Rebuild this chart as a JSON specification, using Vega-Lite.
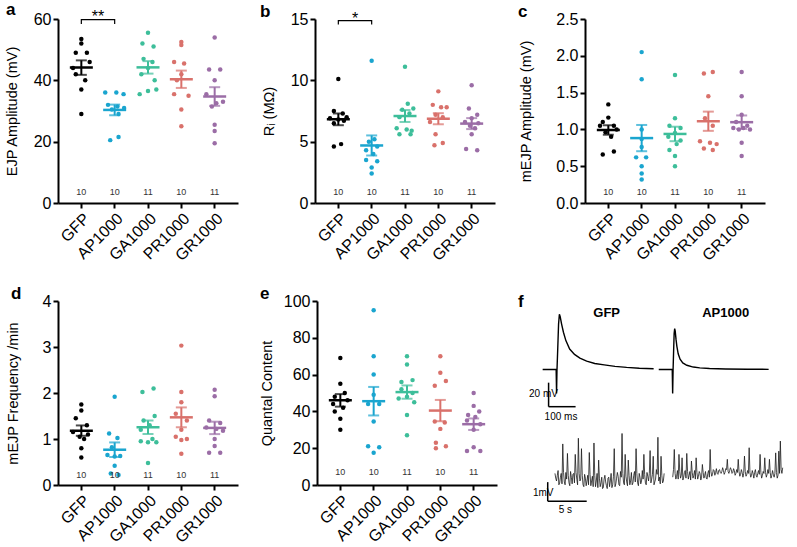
{
"$schema":"https://vega.github.io/schema/vega-lite/v6.json",
"background":"white",
"padding":{"left":4,"top":0,"right":0,"bottom":0},
"spacing":21,
"config":{
 "view":{"stroke":null},
 "font":"Liberation Sans",
 "axis":{"domainColor":"black","domainWidth":2,"tickColor":"black","tickWidth":2,"tickSize":5,"labelColor":"black","labelFontSize":16,"labelPadding":2,"labelOverlap":false,"titleFontSize":14.5,"titleFontWeight":"normal","titleColor":"black","grid":false},
 "title":{"fontSize":17,"fontWeight":"bold","anchor":"start","frame":"group","baseline":"alphabetic","offset":-10,"color":"black"}
},
"datasets":{
 "a":[
  {"g":"GFP","v":53.5,"k":0},{"g":"GFP","v":52,"k":0},{"g":"GFP","v":49,"k":-1},{"g":"GFP","v":49,"k":1},{"g":"GFP","v":46,"k":1.5},{"g":"GFP","v":44,"k":-1.5},{"g":"GFP","v":42,"k":-1},{"g":"GFP","v":40,"k":0.7},{"g":"GFP","v":37,"k":0},{"g":"GFP","v":29,"k":0},
  {"g":"AP1000","v":36,"k":-1.7},{"g":"AP1000","v":36,"k":0.3},{"g":"AP1000","v":35.5,"k":1.6},{"g":"AP1000","v":32,"k":-1.2},{"g":"AP1000","v":31.5,"k":0.5},{"g":"AP1000","v":31,"k":1.7},{"g":"AP1000","v":30.5,"k":-0.5},{"g":"AP1000","v":29,"k":0.7},{"g":"AP1000","v":21.5,"k":0.7},{"g":"AP1000","v":20.5,"k":-0.8},
  {"g":"GA1000","v":55.5,"k":0},{"g":"GA1000","v":52,"k":-1},{"g":"GA1000","v":51,"k":1},{"g":"GA1000","v":47,"k":-0.8},{"g":"GA1000","v":46,"k":0.8},{"g":"GA1000","v":44,"k":0},{"g":"GA1000","v":42,"k":-1.2},{"g":"GA1000","v":40,"k":1.2},{"g":"GA1000","v":37,"k":1.5},{"g":"GA1000","v":36.5,"k":0},{"g":"GA1000","v":35.5,"k":-1.5},
  {"g":"PR1000","v":52.5,"k":0},{"g":"PR1000","v":51.5,"k":0},{"g":"PR1000","v":46,"k":-1.3},{"g":"PR1000","v":45.5,"k":0.5},{"g":"PR1000","v":42,"k":0},{"g":"PR1000","v":40,"k":-0.8},{"g":"PR1000","v":35.5,"k":-1.3},{"g":"PR1000","v":35,"k":1.3},{"g":"PR1000","v":30.5,"k":0},{"g":"PR1000","v":25,"k":0},
  {"g":"GR1000","v":54,"k":0},{"g":"GR1000","v":43.5,"k":-1},{"g":"GR1000","v":43.5,"k":1},{"g":"GR1000","v":40,"k":0},{"g":"GR1000","v":35.5,"k":-1.5},{"g":"GR1000","v":33,"k":1.5},{"g":"GR1000","v":32.5,"k":0.3},{"g":"GR1000","v":31.5,"k":-0.5},{"g":"GR1000","v":25.5,"k":0},{"g":"GR1000","v":23.5,"k":0},{"g":"GR1000","v":19.5,"k":0}
 ],
 "b":[
  {"g":"GFP","v":10.1,"k":0},{"g":"GFP","v":7.5,"k":-0.8},{"g":"GFP","v":7.3,"k":0.8},{"g":"GFP","v":7.0,"k":1.5},{"g":"GFP","v":6.9,"k":-1.5},{"g":"GFP","v":6.8,"k":0},{"g":"GFP","v":6.7,"k":1},{"g":"GFP","v":6.5,"k":-0.8},{"g":"GFP","v":4.8,"k":0.5},{"g":"GFP","v":4.6,"k":-0.8},
  {"g":"AP1000","v":11.6,"k":0},{"g":"AP1000","v":5.2,"k":0.5},{"g":"AP1000","v":5.0,"k":-0.5},{"g":"AP1000","v":4.6,"k":1},{"g":"AP1000","v":4.3,"k":-1},{"g":"AP1000","v":4.0,"k":0.3},{"g":"AP1000","v":3.5,"k":-1},{"g":"AP1000","v":3.4,"k":1},{"g":"AP1000","v":2.9,"k":0},{"g":"AP1000","v":2.4,"k":0},
  {"g":"GA1000","v":11.1,"k":0},{"g":"GA1000","v":8.1,"k":0.5},{"g":"GA1000","v":7.7,"k":1.5},{"g":"GA1000","v":7.6,"k":-0.5},{"g":"GA1000","v":7.3,"k":0.8},{"g":"GA1000","v":7.0,"k":-1},{"g":"GA1000","v":6.1,"k":-1.5},{"g":"GA1000","v":6.0,"k":0.3},{"g":"GA1000","v":5.9,"k":1.2},{"g":"GA1000","v":5.6,"k":-1},{"g":"GA1000","v":5.6,"k":1},
  {"g":"PR1000","v":9.1,"k":0},{"g":"PR1000","v":8.0,"k":-1},{"g":"PR1000","v":7.8,"k":0.5},{"g":"PR1000","v":7.8,"k":1.5},{"g":"PR1000","v":7.2,"k":-0.5},{"g":"PR1000","v":7.0,"k":0.8},{"g":"PR1000","v":6.6,"k":-1.5},{"g":"PR1000","v":5.6,"k":-0.5},{"g":"PR1000","v":4.9,"k":0.8},{"g":"PR1000","v":4.7,"k":-0.7},
  {"g":"GR1000","v":9.6,"k":0},{"g":"GR1000","v":7.7,"k":-0.5},{"g":"GR1000","v":7.2,"k":1},{"g":"GR1000","v":6.9,"k":0},{"g":"GR1000","v":6.6,"k":-1.2},{"g":"GR1000","v":6.5,"k":1.2},{"g":"GR1000","v":6.3,"k":-0.3},{"g":"GR1000","v":6.1,"k":0.6},{"g":"GR1000","v":5.6,"k":0},{"g":"GR1000","v":4.4,"k":-1},{"g":"GR1000","v":4.3,"k":1}
 ],
 "c":[
  {"g":"GFP","v":1.34,"k":0},{"g":"GFP","v":1.16,"k":0},{"g":"GFP","v":1.10,"k":-1},{"g":"GFP","v":1.05,"k":-1.5},{"g":"GFP","v":1.05,"k":1},{"g":"GFP","v":1.00,"k":1.5},{"g":"GFP","v":0.96,"k":-0.5},{"g":"GFP","v":0.90,"k":0.5},{"g":"GFP","v":0.70,"k":1},{"g":"GFP","v":0.66,"k":-1},
  {"g":"AP1000","v":2.05,"k":0},{"g":"AP1000","v":1.68,"k":0},{"g":"AP1000","v":1.0,"k":0},{"g":"AP1000","v":0.87,"k":0},{"g":"AP1000","v":0.76,"k":0},{"g":"AP1000","v":0.62,"k":-1},{"g":"AP1000","v":0.62,"k":0.8},{"g":"AP1000","v":0.5,"k":0},{"g":"AP1000","v":0.4,"k":0},{"g":"AP1000","v":0.32,"k":0},
  {"g":"GA1000","v":1.74,"k":0},{"g":"GA1000","v":1.15,"k":0},{"g":"GA1000","v":1.05,"k":-1},{"g":"GA1000","v":1.02,"k":1},{"g":"GA1000","v":0.95,"k":0},{"g":"GA1000","v":0.90,"k":-1.2},{"g":"GA1000","v":0.85,"k":1},{"g":"GA1000","v":0.80,"k":0.3},{"g":"GA1000","v":0.72,"k":-1},{"g":"GA1000","v":0.64,"k":0},{"g":"GA1000","v":0.50,"k":0},
  {"g":"PR1000","v":1.78,"k":0.8},{"g":"PR1000","v":1.76,"k":-0.8},{"g":"PR1000","v":1.45,"k":0},{"g":"PR1000","v":1.15,"k":-0.6},{"g":"PR1000","v":1.05,"k":0.8},{"g":"PR1000","v":0.84,"k":-1.5},{"g":"PR1000","v":0.82,"k":0.3},{"g":"PR1000","v":0.80,"k":1.5},{"g":"PR1000","v":0.74,"k":-0.8},{"g":"PR1000","v":0.72,"k":0.8},
  {"g":"GR1000","v":1.78,"k":0},{"g":"GR1000","v":1.45,"k":0},{"g":"GR1000","v":1.20,"k":0},{"g":"GR1000","v":1.10,"k":-1},{"g":"GR1000","v":1.05,"k":1},{"g":"GR1000","v":1.02,"k":-1.5},{"g":"GR1000","v":1.02,"k":0.3},{"g":"GR1000","v":1.00,"k":1.5},{"g":"GR1000","v":1.00,"k":-0.5},{"g":"GR1000","v":0.82,"k":0},{"g":"GR1000","v":0.64,"k":0}
 ],
 "d":[
  {"g":"GFP","v":1.75,"k":0},{"g":"GFP","v":1.62,"k":0},{"g":"GFP","v":1.45,"k":-1},{"g":"GFP","v":1.30,"k":1},{"g":"GFP","v":1.15,"k":-1.5},{"g":"GFP","v":1.10,"k":1.2},{"g":"GFP","v":1.05,"k":-0.3},{"g":"GFP","v":1.00,"k":0.5},{"g":"GFP","v":0.80,"k":0},{"g":"GFP","v":0.60,"k":0},
  {"g":"AP1000","v":1.92,"k":0},{"g":"AP1000","v":1.12,"k":-1},{"g":"AP1000","v":1.02,"k":0.5},{"g":"AP1000","v":0.82,"k":-0.5},{"g":"AP1000","v":0.65,"k":-1.3},{"g":"AP1000","v":0.63,"k":1},{"g":"AP1000","v":0.62,"k":0},{"g":"AP1000","v":0.42,"k":0},{"g":"AP1000","v":0.25,"k":-0.7},{"g":"AP1000","v":0.22,"k":0.7},
  {"g":"GA1000","v":2.10,"k":1},{"g":"GA1000","v":2.02,"k":-1},{"g":"GA1000","v":1.50,"k":1.2},{"g":"GA1000","v":1.40,"k":-0.8},{"g":"GA1000","v":1.30,"k":0.3},{"g":"GA1000","v":1.20,"k":-1.3},{"g":"GA1000","v":1.00,"k":0.8},{"g":"GA1000","v":0.95,"k":-1.3},{"g":"GA1000","v":0.93,"k":0},{"g":"GA1000","v":0.93,"k":1.5},{"g":"GA1000","v":0.48,"k":0},
  {"g":"PR1000","v":3.03,"k":0},{"g":"PR1000","v":2.02,"k":0},{"g":"PR1000","v":1.80,"k":0},{"g":"PR1000","v":1.55,"k":-1},{"g":"PR1000","v":1.40,"k":1},{"g":"PR1000","v":1.20,"k":0},{"g":"PR1000","v":1.05,"k":-1},{"g":"PR1000","v":1.00,"k":1},{"g":"PR1000","v":0.98,"k":0},{"g":"PR1000","v":0.68,"k":0},
  {"g":"GR1000","v":2.07,"k":0},{"g":"GR1000","v":1.93,"k":0},{"g":"GR1000","v":1.40,"k":-1},{"g":"GR1000","v":1.35,"k":1},{"g":"GR1000","v":1.25,"k":-1.5},{"g":"GR1000","v":1.22,"k":0.3},{"g":"GR1000","v":1.18,"k":1.5},{"g":"GR1000","v":1.00,"k":0},{"g":"GR1000","v":0.85,"k":0},{"g":"GR1000","v":0.70,"k":-1},{"g":"GR1000","v":0.70,"k":1}
 ],
 "e":[
  {"g":"GFP","v":69,"k":0},{"g":"GFP","v":55,"k":0},{"g":"GFP","v":50,"k":0.8},{"g":"GFP","v":48,"k":-1},{"g":"GFP","v":46,"k":1.3},{"g":"GFP","v":44,"k":-1.3},{"g":"GFP","v":42,"k":0.5},{"g":"GFP","v":40,"k":-1},{"g":"GFP","v":36,"k":0},{"g":"GFP","v":30,"k":0},
  {"g":"AP1000","v":95,"k":0},{"g":"AP1000","v":70,"k":0},{"g":"AP1000","v":60,"k":0},{"g":"AP1000","v":49,"k":0},{"g":"AP1000","v":44,"k":-1},{"g":"AP1000","v":44,"k":1},{"g":"AP1000","v":34.5,"k":0},{"g":"AP1000","v":21,"k":-1},{"g":"AP1000","v":20.5,"k":1},{"g":"AP1000","v":17.5,"k":0},
  {"g":"GA1000","v":70,"k":0},{"g":"GA1000","v":65.5,"k":0},{"g":"GA1000","v":57,"k":1},{"g":"GA1000","v":56,"k":-1},{"g":"GA1000","v":52,"k":-1},{"g":"GA1000","v":50,"k":1},{"g":"GA1000","v":48,"k":0},{"g":"GA1000","v":47,"k":-1.5},{"g":"GA1000","v":45,"k":1.3},{"g":"GA1000","v":38,"k":0},{"g":"GA1000","v":27,"k":0},
  {"g":"PR1000","v":70,"k":0},{"g":"PR1000","v":61,"k":0},{"g":"PR1000","v":56.5,"k":1},{"g":"PR1000","v":54,"k":-1},{"g":"PR1000","v":34.5,"k":-1},{"g":"PR1000","v":34,"k":0.8},{"g":"PR1000","v":30.5,"k":0},{"g":"PR1000","v":23,"k":-0.8},{"g":"PR1000","v":21,"k":1},{"g":"PR1000","v":20,"k":-0.8},
  {"g":"GR1000","v":50,"k":0},{"g":"GR1000","v":43,"k":0},{"g":"GR1000","v":40,"k":1},{"g":"GR1000","v":38,"k":-1},{"g":"GR1000","v":37,"k":0.3},{"g":"GR1000","v":35,"k":-1.2},{"g":"GR1000","v":33,"k":1.2},{"g":"GR1000","v":30,"k":0},{"g":"GR1000","v":20.5,"k":0},{"g":"GR1000","v":18.5,"k":-1.2},{"g":"GR1000","v":18.5,"k":1.2}
 ],
 "ejp":[
  {"s":"g","t":122,"v":0},{"s":"g","t":172,"v":0},{"s":"g","t":173.5,"v":-20},{"s":"g","t":175,"v":-1},{"s":"g","t":178,"v":18},{"s":"g","t":181,"v":38},{"s":"g","t":184,"v":46},{"s":"g","t":187,"v":44},{"s":"g","t":192,"v":38},{"s":"g","t":199,"v":31},{"s":"g","t":208,"v":24},{"s":"g","t":222,"v":17},{"s":"g","t":240,"v":12.5},{"s":"g","t":260,"v":9.5},{"s":"g","t":285,"v":7},{"s":"g","t":315,"v":5},{"s":"g","t":350,"v":3.8},{"s":"g","t":390,"v":2.6},{"s":"g","t":433,"v":1.7},{"s":"g","t":480,"v":1},{"s":"g","t":533,"v":0.6},
  {"s":"a","t":552,"v":0},{"s":"a","t":602,"v":0},{"s":"a","t":603.5,"v":-20},{"s":"a","t":605,"v":-1},{"s":"a","t":607,"v":15},{"s":"a","t":609,"v":30},{"s":"a","t":611,"v":34},{"s":"a","t":613,"v":32},{"s":"a","t":616,"v":25},{"s":"a","t":619,"v":19.5},{"s":"a","t":624,"v":13},{"s":"a","t":631,"v":8.5},{"s":"a","t":641,"v":5.5},{"s":"a","t":656,"v":3.5},{"s":"a","t":680,"v":2},{"s":"a","t":704,"v":1.3},{"s":"a","t":740,"v":0.8},{"s":"a","t":800,"v":0.4},{"s":"a","t":880,"v":0.2},{"s":"a","t":959,"v":0.1}
 ],
 "mini":[
  {"s":"g","t":5.8,"v":0.3},{"s":"g","t":6.0,"v":-0.1},{"s":"g","t":6.2,"v":0.45},{"s":"g","t":6.4,"v":-0.2},{"s":"g","t":6.6,"v":0.3},{"s":"g","t":6.8,"v":1.85},{"s":"g","t":7.0,"v":-0.15},{"s":"g","t":7.2,"v":0.35},{"s":"g","t":7.4,"v":1.35},{"s":"g","t":7.6,"v":-0.2},{"s":"g","t":7.8,"v":0.4},{"s":"g","t":8.0,"v":-0.25},{"s":"g","t":8.2,"v":0.3},{"s":"g","t":8.4,"v":1.3},{"s":"g","t":8.6,"v":0.0},{"s":"g","t":8.8,"v":2.15},{"s":"g","t":9.0,"v":-0.1},{"s":"g","t":9.2,"v":1.6},{"s":"g","t":9.4,"v":-0.3},{"s":"g","t":9.6,"v":0.25},{"s":"g","t":9.8,"v":-0.35},{"s":"g","t":10.0,"v":0.2},{"s":"g","t":10.2,"v":1.4},{"s":"g","t":10.4,"v":-0.35},{"s":"g","t":10.6,"v":0.15},{"s":"g","t":10.8,"v":1.9},{"s":"g","t":11.0,"v":-0.4},{"s":"g","t":11.2,"v":0.3},{"s":"g","t":11.4,"v":1.0},{"s":"g","t":11.6,"v":-0.4},{"s":"g","t":11.8,"v":0.1},{"s":"g","t":12.0,"v":-0.45},{"s":"g","t":12.2,"v":0.2},{"s":"g","t":12.4,"v":-0.35},{"s":"g","t":12.6,"v":0.05},{"s":"g","t":12.8,"v":-0.4},{"s":"g","t":13.0,"v":0.3},{"s":"g","t":13.2,"v":-0.3},{"s":"g","t":13.4,"v":1.6},{"s":"g","t":13.6,"v":-0.25},{"s":"g","t":13.8,"v":0.35},{"s":"g","t":14.0,"v":-0.3},{"s":"g","t":14.2,"v":0.4},{"s":"g","t":14.4,"v":2.4},{"s":"g","t":14.6,"v":-0.2},{"s":"g","t":14.8,"v":1.3},{"s":"g","t":15.0,"v":-0.15},{"s":"g","t":15.2,"v":1.0},{"s":"g","t":15.4,"v":-0.3},{"s":"g","t":15.6,"v":0.35},{"s":"g","t":15.8,"v":-0.2},{"s":"g","t":16.0,"v":0.4},{"s":"g","t":16.2,"v":1.6},{"s":"g","t":16.4,"v":-0.2},{"s":"g","t":16.6,"v":0.3},{"s":"g","t":16.8,"v":-0.25},{"s":"g","t":17.0,"v":0.45},{"s":"g","t":17.2,"v":1.3},{"s":"g","t":17.4,"v":-0.2},{"s":"g","t":17.6,"v":0.35},{"s":"g","t":17.8,"v":-0.1},{"s":"g","t":18.0,"v":1.5},{"s":"g","t":18.2,"v":0.0},{"s":"g","t":18.4,"v":1.2},{"s":"g","t":18.6,"v":-0.15},{"s":"g","t":18.8,"v":0.5},{"s":"g","t":19.0,"v":2.2},{"s":"g","t":19.2,"v":0.1},{"s":"g","t":19.4,"v":1.2},{"s":"g","t":19.6,"v":-0.2},{"s":"g","t":19.8,"v":0.3},
  {"s":"g","t":5.9,"v":0.05},{"s":"g","t":6.1,"v":0.2},{"s":"g","t":6.3,"v":-0.3},{"s":"g","t":6.5,"v":0.1},{"s":"g","t":6.7,"v":-0.25},{"s":"g","t":6.9,"v":0.35},{"s":"g","t":7.1,"v":-0.3},{"s":"g","t":7.3,"v":0.0},{"s":"g","t":7.5,"v":0.2},{"s":"g","t":7.7,"v":-0.35},{"s":"g","t":7.9,"v":0.1},{"s":"g","t":8.1,"v":0.25},{"s":"g","t":8.3,"v":-0.2},{"s":"g","t":8.5,"v":0.35},{"s":"g","t":8.7,"v":-0.3},{"s":"g","t":8.9,"v":0.3},{"s":"g","t":9.1,"v":0.0},{"s":"g","t":9.3,"v":0.2},{"s":"g","t":9.5,"v":-0.4},{"s":"g","t":9.7,"v":0.05},{"s":"g","t":9.9,"v":-0.1},{"s":"g","t":10.1,"v":-0.3},{"s":"g","t":10.3,"v":0.25},{"s":"g","t":10.5,"v":-0.1},{"s":"g","t":10.7,"v":-0.4},{"s":"g","t":10.9,"v":0.2},{"s":"g","t":11.1,"v":-0.1},{"s":"g","t":11.3,"v":-0.45},{"s":"g","t":11.5,"v":0.05},{"s":"g","t":11.7,"v":-0.2},{"s":"g","t":11.9,"v":-0.5},{"s":"g","t":12.1,"v":0.0},{"s":"g","t":12.3,"v":-0.15},{"s":"g","t":12.5,"v":-0.5},{"s":"g","t":12.7,"v":0.1},{"s":"g","t":12.9,"v":-0.1},{"s":"g","t":13.1,"v":-0.45},{"s":"g","t":13.3,"v":0.15},{"s":"g","t":13.5,"v":-0.4},{"s":"g","t":13.7,"v":0.05},{"s":"g","t":13.9,"v":0.15},{"s":"g","t":14.1,"v":-0.35},{"s":"g","t":14.3,"v":0.1},{"s":"g","t":14.5,"v":0.3},{"s":"g","t":14.7,"v":-0.3},{"s":"g","t":14.9,"v":0.15},{"s":"g","t":15.1,"v":-0.35},{"s":"g","t":15.3,"v":0.2},{"s":"g","t":15.5,"v":-0.1},{"s":"g","t":15.7,"v":-0.3},{"s":"g","t":15.9,"v":0.2},{"s":"g","t":16.1,"v":-0.15},{"s":"g","t":16.3,"v":0.3},{"s":"g","t":16.5,"v":-0.35},{"s":"g","t":16.7,"v":0.1},{"s":"g","t":16.9,"v":-0.1},{"s":"g","t":17.1,"v":0.0},{"s":"g","t":17.3,"v":0.25},{"s":"g","t":17.5,"v":-0.3},{"s":"g","t":17.7,"v":0.15},{"s":"g","t":17.9,"v":0.3},{"s":"g","t":18.1,"v":-0.2},{"s":"g","t":18.3,"v":0.25},{"s":"g","t":18.5,"v":-0.3},{"s":"g","t":18.7,"v":0.0},{"s":"g","t":18.9,"v":0.25},{"s":"g","t":19.1,"v":-0.1},{"s":"g","t":19.3,"v":-0.25},{"s":"g","t":19.5,"v":0.2},{"s":"g","t":19.7,"v":-0.1},
  {"s":"a","t":20.9,"v":0.1},{"s":"a","t":21.1,"v":1.56},{"s":"a","t":21.3,"v":0.0},{"s":"a","t":21.5,"v":0.45},{"s":"a","t":21.7,"v":1.3},{"s":"a","t":21.9,"v":0.05},{"s":"a","t":22.1,"v":1.12},{"s":"a","t":22.3,"v":0.1},{"s":"a","t":22.5,"v":0.45},{"s":"a","t":22.7,"v":1.35},{"s":"a","t":22.9,"v":0.0},{"s":"a","t":23.1,"v":0.4},{"s":"a","t":23.3,"v":0.95},{"s":"a","t":23.5,"v":0.05},{"s":"a","t":23.7,"v":0.45},{"s":"a","t":23.9,"v":1.12},{"s":"a","t":24.1,"v":0.0},{"s":"a","t":24.3,"v":0.4},{"s":"a","t":24.5,"v":-0.05},{"s":"a","t":24.7,"v":0.77},{"s":"a","t":24.9,"v":0.05},{"s":"a","t":25.1,"v":0.4},{"s":"a","t":25.3,"v":0.0},{"s":"a","t":25.5,"v":0.45},{"s":"a","t":25.7,"v":1.56},{"s":"a","t":25.9,"v":0.15},{"s":"a","t":26.1,"v":0.5},{"s":"a","t":26.3,"v":0.2},{"s":"a","t":26.5,"v":0.55},{"s":"a","t":26.7,"v":0.25},{"s":"a","t":26.9,"v":0.5},{"s":"a","t":27.1,"v":0.3},{"s":"a","t":27.3,"v":0.6},{"s":"a","t":27.5,"v":0.25},{"s":"a","t":27.7,"v":0.55},{"s":"a","t":27.9,"v":1.04},{"s":"a","t":28.1,"v":0.3},{"s":"a","t":28.3,"v":0.6},{"s":"a","t":28.5,"v":0.3},{"s":"a","t":28.7,"v":0.55},{"s":"a","t":28.9,"v":0.2},{"s":"a","t":29.1,"v":0.5},{"s":"a","t":29.3,"v":1.04},{"s":"a","t":29.5,"v":0.15},{"s":"a","t":29.7,"v":0.5},{"s":"a","t":29.9,"v":0.1},{"s":"a","t":30.1,"v":1.21},{"s":"a","t":30.3,"v":0.15},{"s":"a","t":30.5,"v":0.45},{"s":"a","t":30.7,"v":1.65},{"s":"a","t":30.9,"v":0.1},{"s":"a","t":31.1,"v":0.45},{"s":"a","t":31.3,"v":0.05},{"s":"a","t":31.5,"v":0.5},{"s":"a","t":31.7,"v":0.1},{"s":"a","t":31.9,"v":0.45},{"s":"a","t":32.1,"v":1.3},{"s":"a","t":32.3,"v":0.05},{"s":"a","t":32.5,"v":0.4},{"s":"a","t":32.7,"v":1.12},{"s":"a","t":32.9,"v":0.1},{"s":"a","t":33.1,"v":0.5},{"s":"a","t":33.3,"v":1.04},{"s":"a","t":33.5,"v":0.05},{"s":"a","t":33.7,"v":0.45},{"s":"a","t":33.9,"v":0.1},{"s":"a","t":34.1,"v":1.38},{"s":"a","t":34.3,"v":0.05},{"s":"a","t":34.5,"v":1.47},{"s":"a","t":34.7,"v":2.0},{"s":"a","t":34.9,"v":0.3},{"s":"a","t":35.0,"v":0.6},
  {"s":"a","t":21.0,"v":0.5},{"s":"a","t":21.2,"v":0.3},{"s":"a","t":21.4,"v":0.15},{"s":"a","t":21.6,"v":0.0},{"s":"a","t":21.8,"v":0.4},{"s":"a","t":22.0,"v":0.2},{"s":"a","t":22.2,"v":-0.05},{"s":"a","t":22.4,"v":0.35},{"s":"a","t":22.6,"v":0.05},{"s":"a","t":22.8,"v":0.4},{"s":"a","t":23.0,"v":0.2},{"s":"a","t":23.2,"v":-0.05},{"s":"a","t":23.4,"v":0.35},{"s":"a","t":23.6,"v":0.2},{"s":"a","t":23.8,"v":0.0},{"s":"a","t":24.0,"v":0.35},{"s":"a","t":24.2,"v":0.15},{"s":"a","t":24.4,"v":0.3},{"s":"a","t":24.6,"v":0.1},{"s":"a","t":24.8,"v":0.35},{"s":"a","t":25.0,"v":0.2},{"s":"a","t":25.2,"v":0.05},{"s":"a","t":25.4,"v":0.3},{"s":"a","t":25.6,"v":0.1},{"s":"a","t":25.8,"v":0.4},{"s":"a","t":26.0,"v":0.25},{"s":"a","t":26.2,"v":0.45},{"s":"a","t":26.4,"v":0.35},{"s":"a","t":26.6,"v":0.3},{"s":"a","t":26.8,"v":0.45},{"s":"a","t":27.0,"v":0.35},{"s":"a","t":27.2,"v":0.4},{"s":"a","t":27.4,"v":0.45},{"s":"a","t":27.6,"v":0.35},{"s":"a","t":27.8,"v":0.5},{"s":"a","t":28.0,"v":0.4},{"s":"a","t":28.2,"v":0.45},{"s":"a","t":28.4,"v":0.5},{"s":"a","t":28.6,"v":0.35},{"s":"a","t":28.8,"v":0.45},{"s":"a","t":29.0,"v":0.3},{"s":"a","t":29.2,"v":0.35},{"s":"a","t":29.4,"v":0.4},{"s":"a","t":29.6,"v":0.25},{"s":"a","t":29.8,"v":0.35},{"s":"a","t":30.0,"v":0.3},{"s":"a","t":30.2,"v":0.4},{"s":"a","t":30.4,"v":0.25},{"s":"a","t":30.6,"v":0.3},{"s":"a","t":30.8,"v":0.35},{"s":"a","t":31.0,"v":0.2},{"s":"a","t":31.2,"v":0.3},{"s":"a","t":31.4,"v":0.35},{"s":"a","t":31.6,"v":0.2},{"s":"a","t":31.8,"v":0.3},{"s":"a","t":32.0,"v":0.25},{"s":"a","t":32.2,"v":0.35},{"s":"a","t":32.4,"v":0.2},{"s":"a","t":32.6,"v":0.3},{"s":"a","t":32.8,"v":0.35},{"s":"a","t":33.0,"v":0.25},{"s":"a","t":33.2,"v":0.3},{"s":"a","t":33.4,"v":0.35},{"s":"a","t":33.6,"v":0.2},{"s":"a","t":33.8,"v":0.25},{"s":"a","t":34.0,"v":0.3},{"s":"a","t":34.2,"v":0.35},{"s":"a","t":34.4,"v":0.2},{"s":"a","t":34.6,"v":0.3},{"s":"a","t":34.8,"v":0.5}
 ]
},
"vconcat":[
 {"spacing":22,"hconcat":[
  {"width":180,"height":184,"title":{"text":"a","dx":-52},"data":{"name":"a"},
   "encoding":{
    "x":{"field":"g","type":"nominal","scale":{"domain":["GFP","AP1000","GA1000","PR1000","GR1000"],"paddingInner":0,"paddingOuter":0.2},"axis":{"title":null,"labelAngle":-45}},
    "color":{"field":"g","type":"nominal","scale":{"domain":["GFP","AP1000","GA1000","PR1000","GR1000"],"range":["#000000","#1aa5cf","#3dbe9a","#d9716b","#9b6da6"]},"legend":null}},
   "layer":[
    {"mark":{"type":"circle","size":20,"opacity":1},"encoding":{"y":{"field":"v","type":"quantitative","title":"EJP Amplitude (mV)","scale":{"domain":[0,60],"nice":false},"axis":{"values":[0,20,40,60],"tickCount":20,"format":"d","titleX":-46,"titleBaseline":"middle"}},"xOffset":{"field":"k","type":"quantitative","scale":{"domain":[-3,3]}}}},
    {"mark":{"type":"errorbar","extent":"stderr","ticks":true,"size":11,"thickness":2},"encoding":{"y":{"field":"v","type":"quantitative","title":"EJP Amplitude (mV)"}}},
    {"mark":{"type":"tick","size":23,"thickness":2.5},"encoding":{"y":{"aggregate":"mean","field":"v","type":"quantitative","title":"EJP Amplitude (mV)"}}},
    {"mark":{"type":"text","fontSize":9,"baseline":"middle"},"encoding":{"y":{"datum":3.6},"text":{"aggregate":"count","type":"quantitative"},"color":{"value":"#333333"}}},
    {"data":{"values":[{"g":"GFP","v":58.4,"o":1},{"g":"GFP","v":59.8,"o":2},{"g":"AP1000","v":59.8,"o":3},{"g":"AP1000","v":58.4,"o":4}]},"mark":{"type":"line","strokeWidth":1.2},"encoding":{"y":{"field":"v","type":"quantitative","title":"EJP Amplitude (mV)"},"order":{"field":"o","type":"quantitative"},"color":{"value":"black"}}},
    {"data":{"values":[{"g":"AP1000","v":59.05,"s":"**"}]},"mark":{"type":"text","fontSize":16,"baseline":"alphabetic","align":"center"},"encoding":{"x":{"field":"g","type":"nominal","bandPosition":0},"y":{"field":"v","type":"quantitative","title":"EJP Amplitude (mV)"},"text":{"field":"s"},"color":{"value":"black"}}}
   ]},
  {"width":180,"height":184,"title":{"text":"b","dx":-55},"data":{"name":"b"},
   "encoding":{
    "x":{"field":"g","type":"nominal","scale":{"domain":["GFP","AP1000","GA1000","PR1000","GR1000"],"paddingInner":0,"paddingOuter":0.2},"axis":{"title":null,"labelAngle":-45}},
    "color":{"field":"g","type":"nominal","scale":{"domain":["GFP","AP1000","GA1000","PR1000","GR1000"],"range":["#000000","#1aa5cf","#3dbe9a","#d9716b","#9b6da6"]},"legend":null}},
   "layer":[
    {"mark":{"type":"circle","size":20,"opacity":1},"encoding":{"y":{"field":"v","type":"quantitative","title":"Rᵢ (MΩ)","scale":{"domain":[0,15],"nice":false},"axis":{"values":[0,5,10,15],"tickCount":20,"format":"d","titleX":-46,"titleBaseline":"middle"}},"xOffset":{"field":"k","type":"quantitative","scale":{"domain":[-3,3]}}}},
    {"mark":{"type":"errorbar","extent":"stderr","ticks":true,"size":11,"thickness":2},"encoding":{"y":{"field":"v","type":"quantitative","title":"Rᵢ (MΩ)"}}},
    {"mark":{"type":"tick","size":23,"thickness":2.5},"encoding":{"y":{"aggregate":"mean","field":"v","type":"quantitative","title":"Rᵢ (MΩ)"}}},
    {"mark":{"type":"text","fontSize":9,"baseline":"middle"},"encoding":{"y":{"datum":0.9},"text":{"aggregate":"count","type":"quantitative"},"color":{"value":"#333333"}}},
    {"data":{"values":[{"g":"GFP","v":14.56,"o":1},{"g":"GFP","v":14.86,"o":2},{"g":"AP1000","v":14.86,"o":3},{"g":"AP1000","v":14.56,"o":4}]},"mark":{"type":"line","strokeWidth":1.2},"encoding":{"y":{"field":"v","type":"quantitative","title":"Rᵢ (MΩ)"},"order":{"field":"o","type":"quantitative"},"color":{"value":"black"}}},
    {"data":{"values":[{"g":"AP1000","v":14.6,"s":"*"}]},"mark":{"type":"text","fontSize":16,"baseline":"alphabetic","align":"center"},"encoding":{"x":{"field":"g","type":"nominal","bandPosition":0},"y":{"field":"v","type":"quantitative","title":"Rᵢ (MΩ)"},"text":{"field":"s"},"color":{"value":"black"}}}
   ]},
  {"width":180,"height":184,"title":{"text":"c","dx":-67},"data":{"name":"c"},
   "encoding":{
    "x":{"field":"g","type":"nominal","scale":{"domain":["GFP","AP1000","GA1000","PR1000","GR1000"],"paddingInner":0,"paddingOuter":0.2},"axis":{"title":null,"labelAngle":-45}},
    "color":{"field":"g","type":"nominal","scale":{"domain":["GFP","AP1000","GA1000","PR1000","GR1000"],"range":["#000000","#1aa5cf","#3dbe9a","#d9716b","#9b6da6"]},"legend":null}},
   "layer":[
    {"mark":{"type":"circle","size":20,"opacity":1},"encoding":{"y":{"field":"v","type":"quantitative","title":"mEJP Amplitude (mV)","scale":{"domain":[0,2.5],"nice":false},"axis":{"values":[0,0.5,1,1.5,2,2.5],"tickCount":20,"format":".1f","titleX":-59,"titleBaseline":"middle"}},"xOffset":{"field":"k","type":"quantitative","scale":{"domain":[-3,3]}}}},
    {"mark":{"type":"errorbar","extent":"stderr","ticks":true,"size":11,"thickness":2},"encoding":{"y":{"field":"v","type":"quantitative","title":"mEJP Amplitude (mV)"}}},
    {"mark":{"type":"tick","size":23,"thickness":2.5},"encoding":{"y":{"aggregate":"mean","field":"v","type":"quantitative","title":"mEJP Amplitude (mV)"}}},
    {"mark":{"type":"text","fontSize":9,"baseline":"middle"},"encoding":{"y":{"datum":0.15},"text":{"aggregate":"count","type":"quantitative"},"color":{"value":"#333333"}}}
   ]}
 ]},
 {"spacing":21,"hconcat":[
  {"width":180,"height":184,"title":{"text":"d","dx":-47},"data":{"name":"d"},
   "encoding":{
    "x":{"field":"g","type":"nominal","scale":{"domain":["GFP","AP1000","GA1000","PR1000","GR1000"],"paddingInner":0,"paddingOuter":0.2},"axis":{"title":null,"labelAngle":-45}},
    "color":{"field":"g","type":"nominal","scale":{"domain":["GFP","AP1000","GA1000","PR1000","GR1000"],"range":["#000000","#1aa5cf","#3dbe9a","#d9716b","#9b6da6"]},"legend":null}},
   "layer":[
    {"mark":{"type":"circle","size":20,"opacity":1},"encoding":{"y":{"field":"v","type":"quantitative","title":"mEJP Frequency /min","scale":{"domain":[0,4],"nice":false},"axis":{"values":[0,1,2,3,4],"tickCount":20,"format":"d","titleX":-45,"titleBaseline":"middle"}},"xOffset":{"field":"k","type":"quantitative","scale":{"domain":[-3,3]}}}},
    {"mark":{"type":"errorbar","extent":"stderr","ticks":true,"size":11,"thickness":2},"encoding":{"y":{"field":"v","type":"quantitative","title":"mEJP Frequency /min"}}},
    {"mark":{"type":"tick","size":23,"thickness":2.5},"encoding":{"y":{"aggregate":"mean","field":"v","type":"quantitative","title":"mEJP Frequency /min"}}},
    {"mark":{"type":"text","fontSize":9,"baseline":"middle"},"encoding":{"y":{"datum":0.21},"text":{"aggregate":"count","type":"quantitative"},"color":{"value":"#333333"}}}
   ]},
  {"width":180,"height":184,"title":{"text":"e","dx":-57},"data":{"name":"e"},
   "encoding":{
    "x":{"field":"g","type":"nominal","scale":{"domain":["GFP","AP1000","GA1000","PR1000","GR1000"],"paddingInner":0,"paddingOuter":0.2},"axis":{"title":null,"labelAngle":-45}},
    "color":{"field":"g","type":"nominal","scale":{"domain":["GFP","AP1000","GA1000","PR1000","GR1000"],"range":["#000000","#1aa5cf","#3dbe9a","#d9716b","#9b6da6"]},"legend":null}},
   "layer":[
    {"mark":{"type":"circle","size":20,"opacity":1},"encoding":{"y":{"field":"v","type":"quantitative","title":"Quantal Content","scale":{"domain":[0,100],"nice":false},"axis":{"values":[0,20,40,60,80,100],"tickCount":20,"format":"d","titleX":-50,"titleBaseline":"middle"}},"xOffset":{"field":"k","type":"quantitative","scale":{"domain":[-3,3]}}}},
    {"mark":{"type":"errorbar","extent":"stderr","ticks":true,"size":11,"thickness":2},"encoding":{"y":{"field":"v","type":"quantitative","title":"Quantal Content"}}},
    {"mark":{"type":"tick","size":23,"thickness":2.5},"encoding":{"y":{"aggregate":"mean","field":"v","type":"quantitative","title":"Quantal Content"}}},
    {"mark":{"type":"text","fontSize":9,"baseline":"middle"},"encoding":{"y":{"datum":7.2},"text":{"aggregate":"count","type":"quantitative"},"color":{"value":"#333333"}}}
   ]},
  {"width":270,"height":245,"title":{"text":"f","dx":0},
   "resolve":{"scale":{"x":"independent","y":"independent"}},
   "layer":[
    {"layer":[
     {"data":{"name":"ejp"},"mark":{"type":"line","color":"black","strokeWidth":1.4},"encoding":{"x":{"field":"t","type":"quantitative","scale":{"domain":[30.7,1030.7],"nice":false,"zero":false},"axis":null},"y":{"field":"v","type":"quantitative","scale":{"domain":[-147,57],"nice":false,"zero":false},"axis":null},"detail":{"field":"s"}}},
     {"data":{"values":[{"t":144,"v":-11,"t2":144,"v2":-31},{"t":144,"v":-31,"t2":244,"v2":-31}]},"mark":{"type":"rule","color":"black","strokeWidth":1.5},"encoding":{"x":{"field":"t","type":"quantitative"},"y":{"field":"v","type":"quantitative"},"x2":{"field":"t2"},"y2":{"field":"v2"}}},
     {"data":{"values":[{"t":125,"v":-20.4,"s":"20 mV","a":"right"},{"t":190,"v":-39.6,"s":"100 ms","a":"center"}]},"mark":{"type":"text","fontSize":10,"baseline":"middle","color":"black"},"encoding":{"x":{"field":"t","type":"quantitative"},"y":{"field":"v","type":"quantitative"},"text":{"field":"s"},"align":{"field":"a"}}},
     {"data":{"values":[{"t":359,"v":47,"s":"GFP"},{"t":800,"v":47,"s":"AP1000"}]},"mark":{"type":"text","fontSize":13,"fontWeight":"bold","baseline":"middle","align":"center","color":"black"},"encoding":{"x":{"field":"t","type":"quantitative"},"y":{"field":"v","type":"quantitative"},"text":{"field":"s"}}}
    ]},
    {"layer":[
     {"data":{"name":"mini"},"mark":{"type":"line","color":"#1a1a1a","strokeWidth":0.8},"encoding":{"x":{"field":"t","type":"quantitative","scale":{"domain":[1.06,35.68],"nice":false,"zero":false},"axis":null},"y":{"field":"v","type":"quantitative","scale":{"domain":[-3.52,9.37],"nice":false,"zero":false},"axis":null},"detail":{"field":"s"}}},
     {"data":{"values":[{"t":4.87,"v":-0.16,"t2":4.87,"v2":-1.16},{"t":4.87,"v":-1.16,"t2":9.87,"v2":-1.16}]},"mark":{"type":"rule","color":"black","strokeWidth":1.5},"encoding":{"x":{"field":"t","type":"quantitative"},"y":{"field":"v","type":"quantitative"},"x2":{"field":"t2"},"y2":{"field":"v2"}}},
     {"data":{"values":[{"t":4.55,"v":-0.74,"s":"1mV","a":"right"},{"t":7.4,"v":-1.6,"s":"5 s","a":"center"}]},"mark":{"type":"text","fontSize":10,"baseline":"middle","color":"black","dx":-2},"encoding":{"x":{"field":"t","type":"quantitative"},"y":{"field":"v","type":"quantitative"},"text":{"field":"s"},"align":{"field":"a"}}}
    ]}
   ]}
 ]}
]
}
